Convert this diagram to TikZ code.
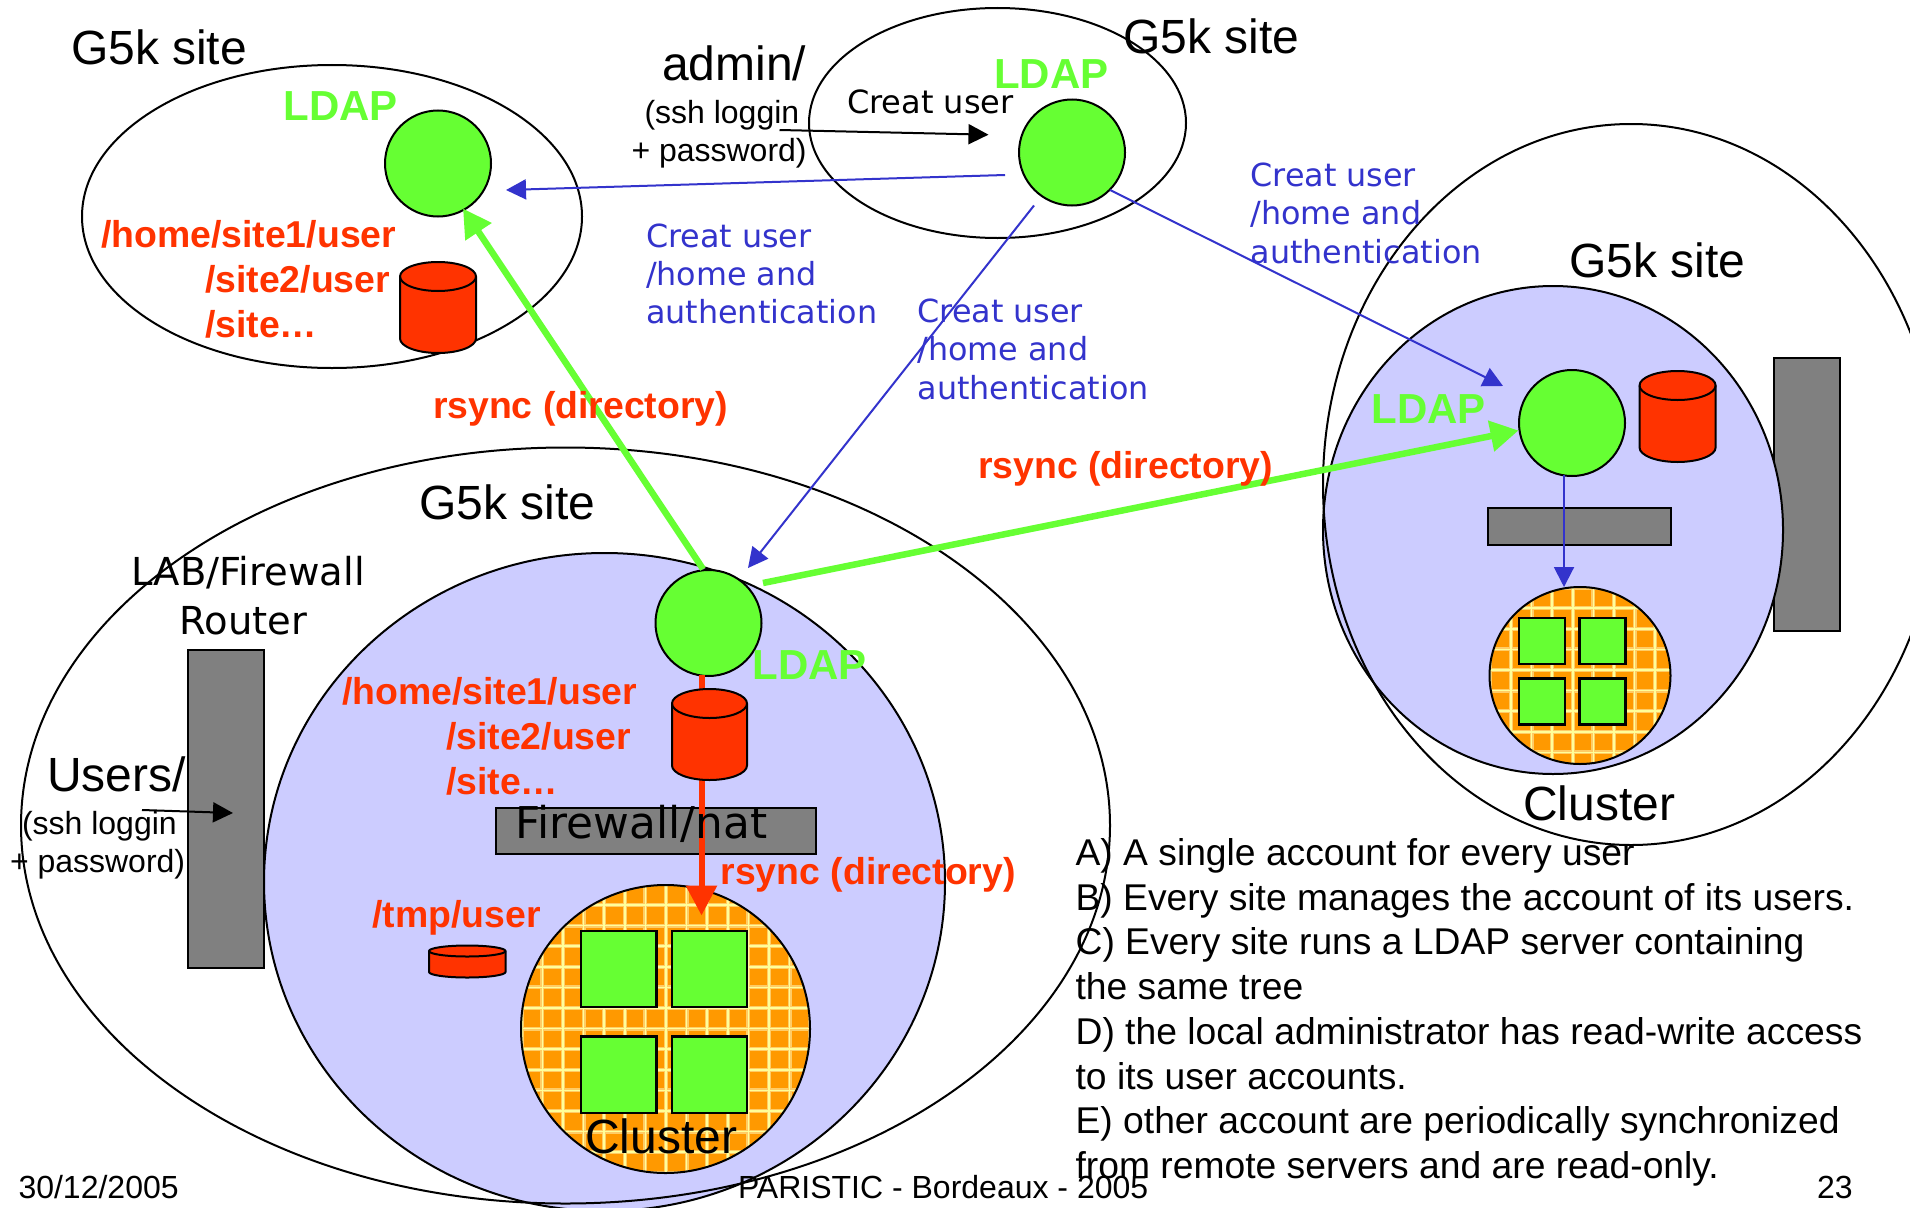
\documentclass[tikz,border=0pt]{standalone}
\usepackage{fontspec}
\usetikzlibrary{arrows.meta,shapes.geometric}
\setmainfont{Liberation Sans}
\newfontfamily\vfam{DejaVu Sans}
\definecolor{ldapgreen}{HTML}{66FF33}
\definecolor{hotred}{HTML}{FF3300}
\definecolor{lavend}{HTML}{CCCCFF}
\definecolor{linkblue}{HTML}{3333CC}
\definecolor{wafer}{HTML}{FF9900}
\definecolor{gridlight}{HTML}{FFFF99}
\definecolor{gridhalo}{HTML}{FFCC66}
\definecolor{slab}{HTML}{808080}
\newcommand\stackedlines[1]{\vtop{#1}}
% \drum{x1}{y1}{x2}{y2}{ry}
\newcommand\drum[5]{%
  \pgfmathsetmacro\drumrx{(#3-#1)/2}%
  \draw[drumstyle] (#1,#2+#5) -- (#1,#4-#5) arc[start angle=180,end angle=0,x radius=\drumrx,y radius=#5]
    -- (#3,#2+#5) arc[start angle=0,end angle=-180,x radius=\drumrx,y radius=#5] -- cycle;
  \draw[line width=2pt,black] (#1,#2+#5) arc[start angle=180,end angle=0,x radius=\drumrx,y radius=#5];
}
\tikzset{
  x=1pt,y=-1pt,
  oval/.style={ellipse,inner sep=0pt,outer sep=0pt,line width=2pt,draw=black},
  ldapnode/.style={circle,inner sep=0pt,outer sep=0pt,minimum size=106pt,line width=2pt,draw=black,fill=ldapgreen},
  slabnode/.style={rectangle,inner sep=0pt,outer sep=0pt,line width=2pt,draw=black,fill=slab},
  bladenode/.style={rectangle,inner sep=0pt,outer sep=0pt,line width=2.5pt,draw=black,fill=ldapgreen},
  drumstyle/.style={line width=2pt,draw=black,fill=hotred},
  txt/.style={anchor=base west,inner sep=0pt,outer sep=0pt},
  big/.style={txt,font=\fontsize{48}{48}\selectfont},
  small/.style={txt,font=\fontsize{32}{38.5}\selectfont},
  verd/.style={txt,font=\vfam\fontsize{32}{38.5}\selectfont},
  bluetxt/.style={txt,text=linkblue,font=\vfam\fontsize{31.8}{38.3}\selectfont},
  redtxt/.style={txt,text=hotred,font=\bfseries\fontsize{37.4}{45}\selectfont},
  ldaptxt/.style={txt,text=ldapgreen,font=\bfseries\fontsize{42}{42}\selectfont},
  foot/.style={txt,font=\fontsize{32}{32}\selectfont},
  bluelink/.style={draw=linkblue,line width=2pt,-{Triangle[length=20pt,width=20pt,fill=linkblue]}},
  blacklink/.style={draw=black,line width=2pt,-{Triangle[length=20pt,width=20pt,fill=black]}},
  greenlink/.style={draw=ldapgreen,line width=6.5pt,-{Triangle[length=28pt,width=30pt,fill=ldapgreen]}},
  redlink/.style={draw=hotred,line width=6pt,-{Triangle[length=30pt,width=30pt,fill=hotred]}},
}
\begin{document}
\begin{tikzpicture}
\useasboundingbox (0,0) rectangle (1910,1207);
\fill[white] (0,0) rectangle (1910,1207);

% router of the right site lies under its lavender domain
\node[slabnode,minimum width=66pt,minimum height=273pt] (routerB) at (1807,494.5) {};

% gray router of the bottom site
\node[slabnode,minimum width=76pt,minimum height=318.5pt] (router) at (226,808.75) {};

% lavender cluster domains
\node[oval,fill=lavend,minimum width=681pt,minimum height=658pt] (lanA) at (604.5,882) {};
\node[oval,fill=lavend,minimum width=460pt,minimum height=488pt] (lanB) at (1553,530) {};

% site ovals
\node[oval,minimum width=500pt,minimum height=303pt] (siteTL) at (332,216.5) {};
\node[oval,minimum width=377pt,minimum height=230pt] (siteTR) at (997.5,123) {};
\node[oval,minimum width=1089pt,minimum height=756pt] (siteB) at (565.5,825.5) {};
\node[oval,minimum width=616pt,minimum height=721pt] (siteR) at (1631,484.5) {};

% firewalls
\node[slabnode,minimum width=320pt,minimum height=46.5pt] (fwA) at (656,830.75) {};
\node[slabnode,minimum width=182.5pt,minimum height=37pt] (fwB) at (1579.25,526.5) {};

% wafer A
\begin{scope}
  \clip (665.5,1029) ellipse [x radius=144.5,y radius=144];
  \fill[wafer] (500,870) rectangle (830,1190);
  \foreach \k in {-8,...,8} {
    \draw[gridhalo,line width=4pt] (666+20.6*\k,870) -- (666+20.6*\k,1190);
    \draw[gridhalo,line width=4pt] (500,1008+20.6*\k) -- (830,1008+20.6*\k);
  }
  \foreach \k in {-8,...,8} {
    \draw[gridlight,line width=1.6pt] (666+20.6*\k,870) -- (666+20.6*\k,1190);
    \draw[gridlight,line width=1.6pt] (500,1008+20.6*\k) -- (830,1008+20.6*\k);
  }
\end{scope}
\node[oval,minimum width=289pt,minimum height=288pt] (waferA) at (665.5,1029) {};
\node[bladenode,minimum width=75.5pt,minimum height=76pt] (a1) at (618.75,969) {};
\node[bladenode,minimum width=75pt,minimum height=76pt] (a2) at (709.5,969) {};
\node[bladenode,minimum width=75.5pt,minimum height=76.5pt] (a3) at (618.75,1074.75) {};
\node[bladenode,minimum width=75pt,minimum height=76.5pt] (a4) at (709.5,1074.75) {};

% wafer B
\begin{scope}
  \clip (1580,675.5) ellipse [x radius=90.5,y radius=88.5];
  \fill[wafer] (1480,580) rectangle (1680,770);
  \foreach \k in {-6,...,6} {
    \draw[gridhalo,line width=4pt] (1572.7+20.6*\k,580) -- (1572.7+20.6*\k,770);
    \draw[gridhalo,line width=4pt] (1480,670+20.6*\k) -- (1680,670+20.6*\k);
  }
  \foreach \k in {-6,...,6} {
    \draw[gridlight,line width=1.6pt] (1572.7+20.6*\k,580) -- (1572.7+20.6*\k,770);
    \draw[gridlight,line width=1.6pt] (1480,670+20.6*\k) -- (1680,670+20.6*\k);
  }
\end{scope}
\node[oval,minimum width=181pt,minimum height=177pt] (waferB) at (1580,675.5) {};
\node[bladenode,minimum width=46pt,minimum height=46pt] (b1) at (1542,641) {};
\node[bladenode,minimum width=46pt,minimum height=46pt] (b2) at (1602.25,641) {};
\node[bladenode,minimum width=46pt,minimum height=46pt] (b3) at (1542,701.3) {};
\node[bladenode,minimum width=46pt,minimum height=46pt] (b4) at (1602.25,701.3) {};

% LDAP servers
\node[ldapnode] (ldapTL) at (438,163.5) {};
\node[ldapnode] (ldapTR) at (1072,152.5) {};
\node[ldapnode] (ldapB) at (708.5,623) {};
\node[ldapnode] (ldapR) at (1572,423) {};

% connector ends
\coordinate (rsA) at (703,569);
\coordinate (rsAt) at (463,208.5);
\coordinate (rsB) at (763,583);
\coordinate (rsBt) at (1518.5,430.5);
\coordinate (rsC) at (701.5,675);
\coordinate (rsCt) at (701.5,915.5);
\coordinate (cuA) at (1005,175);
\coordinate (cuAt) at (506,190);
\coordinate (cuB) at (1034,205.5);
\coordinate (cuBt) at (748,568);
\coordinate (cuC) at (1110,190);
\coordinate (cuCt) at (1503,386);
\coordinate (syR) at (1564,475);
\coordinate (syRt) at (1564,587);
\coordinate (adm) at (779.5,130);
\coordinate (admt) at (988.5,134.7);
\coordinate (usr) at (142,810);
\coordinate (usrt) at (233,813);

% connectors
\draw[redlink] (rsC) -- (rsCt);
\draw[greenlink] (rsA) -- (rsAt);
\draw[greenlink] (rsB) -- (rsBt);
\draw[bluelink] (cuA) -- (cuAt);
\draw[bluelink] (cuB) -- (cuBt);
\draw[bluelink] (cuC) -- (cuCt);
\draw[bluelink] (syR) -- (syRt);
\draw[blacklink] (adm) -- (admt);
\draw[blacklink] (usr) -- (usrt);

% storage
\drum{400}{262}{476}{353}{14.5}
\drum{672}{689}{747}{780}{14.5}
\drum{1639.5}{371}{1715.6}{462}{14.5}
\drum{429}{945.5}{505.5}{977.5}{5.5}

% titles
\node[big] (t1) at (71,65) {G5k site};
\node[big] (t2) at (1123,53.5) {G5k site};
\node[big] (t3) at (419.5,519) {G5k site};
\node[big] (t4) at (1569,277) {G5k site};
\node[big] (t5) at (662,81) {admin/};
\node[big] (t6) at (47,791) {Users/};
\node[big] (t7) at (585,1153) {Cluster};
\node[big] (t8) at (1523,820) {Cluster};

\node[small] (s1) at (631.5,123) {\stackedlines{\hbox{\kern13pt(ssh loggin}\hbox{+ password)}}};
\node[small] (s2) at (10,834) {\stackedlines{\hbox{\kern12pt(ssh loggin}\hbox{+ password)}}};

\node[verd] (v0) at (847,113.5) {Creat user};
\node[bluetxt] (v1) at (646,247) {\stackedlines{\hbox{Creat user}\hbox{/home and}\hbox{authentication}}};
\node[bluetxt] (v2) at (917.5,322.5) {\stackedlines{\hbox{Creat user}\hbox{/home and}\hbox{authentication}}};
\node[bluetxt] (v3) at (1250.5,186.5) {\stackedlines{\hbox{Creat user}\hbox{/home and}\hbox{authentication}}};
\node[txt,font=\vfam\fontsize{38.5}{49}\selectfont] (lab) at (131.5,585) {\stackedlines{\hbox{LAB/Firewall}\hbox{\kern48pt Router}}};
\node[txt,font=\vfam\fontsize{43.8}{43.8}\selectfont] (fwtxt) at (515.5,838.5) {Firewall/nat};

\node[redtxt] (r1) at (101,247.5) {\stackedlines{\hbox{/home/site1/user}\hbox{\kern104pt/site2/user}\hbox{\kern104pt/site…}}};
\node[redtxt] (r2) at (342,704.5) {\stackedlines{\hbox{/home/site1/user}\hbox{\kern104pt/site2/user}\hbox{\kern104pt/site…}}};
\node[redtxt] (r3) at (372.5,927.5) {/tmp/user};
\node[redtxt] (r4) at (433,418) {rsync (directory)};
\node[redtxt] (r5) at (720.6,884) {rsync (directory)};
\node[redtxt] (r6) at (978,478) {rsync (directory)};

\node[ldaptxt] (l1) at (283.5,120.5) {LDAP};
\node[ldaptxt] (l2) at (994,88.5) {LDAP};
\node[ldaptxt] (l3) at (1371.5,423) {LDAP};
\node[ldaptxt] (l4) at (752.5,679.5) {LDAP};

\node[txt,font=\fontsize{37.25}{44.7}\selectfont] (notes) at (1075.6,865.5) {\stackedlines{%
  \hbox{A) A single account for every user}
  \hbox{B) Every site manages the account of its users.}
  \hbox{C) Every site runs a LDAP server containing}
  \hbox{the same tree}
  \hbox{D) the local administrator has read-write access}
  \hbox{to its user accounts.}
  \hbox{E) other account are periodically synchronized}
  \hbox{from remote servers and are read-only.}}};

\node[foot] (f1) at (18.5,1198.5) {30/12/2005};
\node[foot] (f2) at (738,1198.5) {PARISTIC - Bordeaux - 2005};
\node[foot] (f3) at (1817,1198.5) {23};
\end{tikzpicture}
\end{document}
